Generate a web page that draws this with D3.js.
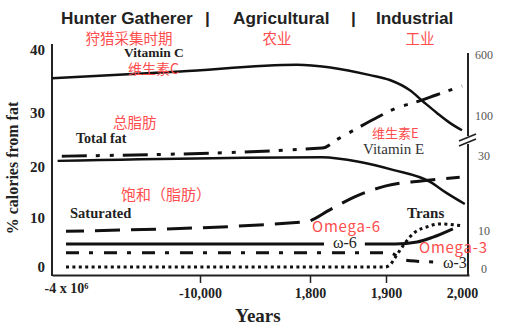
<!DOCTYPE html>
<html>
<head>
<meta charset="utf-8">
<script src="https://cdn.jsdelivr.net/npm/d3@7"></script>
<style>
  body { margin: 0; background: #fff; }
  svg { display: block; }
</style>
</head>
<body>
<svg id="chart" width="505" height="331"></svg>
<script>
// ---- data ----------------------------------------------------------------
const xTickValues = [-4e6, -10000, 1800, 1900, 2000];
const xTickLabels = ["-4 x 10\u2076", "-10,000", "1,800", "1,900", "2,000"];
const leftTicks = [0, 10, 20, 30, 40];      // % calories from fat
const rightTicks = [0, 10, 30, 100, 600];   // mg/day (vitamins)
const eras = ["Hunter Gatherer", "|", "Agricultural", "|", "Industrial"];
const erasZh = ["狩猎采集时期", "农业", "工业"];

// each series: [year, value]
const vitaminC = [[-4.5e6, 410], [-6.0e5, 465], [400, 520], [1879, 435], [1905, 395],
                  [1931, 313], [1951, 207], [1967, 125], [1984, 88], [2000, 75]];
const vitaminE = [[-4.3e6, 28.7], [1816, 29.7], [1866, 28.4], [1909, 26.3],
                  [1958, 23.1], [1980, 20.1], [2004, 17.2]];
const totalFat = [[-4.15e6, 22.0], [1816, 23.5], [1837, 25.2], [1860, 27.0], [1890, 29.3],
                  [1916, 30.9], [1936, 31.6], [1967, 32.9], [2000, 34.3]];
const saturated = [[-4e6, 7.3], [1260, 9.2], [1826, 11.6], [1858, 14.1], [1900, 16.3],
                   [1949, 17.3], [1997, 18.0]];
const omega6 = [[-4e6, 4.7], [1912, 4.7], [1941, 5.1], [1962, 6.1], [1988, 7.8]];
const omega3 = [[-4e6, 2.9], [1905, 2.9], [1921, 1.6], [1938, 1.2], [1974, 1.0]];
const trans = [[-4e6, 0], [1899, 0], [1905, 0.4], [1914, 2.4], [1925, 4.9], [1938, 7.1],
               [1954, 8.2], [1971, 8.8], [2000, 8.4]];

// ---- scales (broken time axis, stretched value axes) ------------------------
const svg = d3.select("#chart");
const x = d3.scaleLinear()
  .domain([-4.5e6, -4e6, -10000, 1800, 1900, 2000, 2010])
  .range([52, 66, 200, 310, 386, 462, 469]);
const yL = d3.scaleLinear().domain([0, 10, 20, 30, 40]).range([267, 218, 167, 113, 50]);
const yR = d3.scaleLinear().domain([0, 10, 30, 100, 600]).range([269, 231, 156, 116, 55]);

const serif = "'Liberation Serif', 'Times New Roman', serif";
const sans = "'Liberation Sans', Arial, sans-serif";
const cjk = "'Noto Sans CJK SC', sans-serif";
const red = "#ff4d4d";
const ink = "#111";

// ---- axes ------------------------------------------------------------------
const xAxis = svg.append("g")
  .attr("transform", "translate(0,275)")
  .call(d3.axisBottom(x).tickValues(xTickValues)
    .tickFormat((d, i) => xTickLabels[i]).tickSize(8).tickSizeOuter(0).tickPadding(5));
xAxis.select(".domain").attr("stroke", "#222").attr("stroke-width", 2);
xAxis.selectAll(".tick line").attr("stroke", "#222").attr("stroke-width", 1.5);
xAxis.selectAll(".tick").filter((d, i) => i === 0 || i === xTickValues.length - 1)
  .select("line").remove();
xAxis.selectAll(".tick text")
  .attr("font-family", serif).attr("font-weight", "bold").attr("font-size", 14).attr("fill", "#222");
xAxis.selectAll(".tick").filter((d, i) => i === 0).select("text").attr("y", 8);

const yAxisL = svg.append("g")
  .attr("transform", "translate(52,0)")
  .call(d3.axisLeft(yL).tickValues(leftTicks).tickSize(0).tickPadding(7));
yAxisL.select(".domain").remove();
yAxisL.selectAll(".tick text")
  .attr("font-family", serif).attr("font-weight", "bold").attr("font-size", 15).attr("fill", "#222");
svg.append("line").attr("x1", 52).attr("x2", 52).attr("y1", 44).attr("y2", 276)
  .attr("stroke", "#222").attr("stroke-width", 2);

const yAxisR = svg.append("g")
  .attr("transform", "translate(468,0)")
  .call(d3.axisRight(yR).tickValues(rightTicks).tickSize(0).tickPadding(16));
yAxisR.select(".domain").remove();
yAxisR.selectAll(".tick text")
  .attr("text-anchor", "middle")
  .attr("font-family", serif).attr("font-size", 12).attr("fill", "#555");
// right axis with a scale break
svg.append("line").attr("x1", 468).attr("x2", 468).attr("y1", 53).attr("y2", 136)
  .attr("stroke", "#222").attr("stroke-width", 2);
svg.append("line").attr("x1", 468).attr("x2", 468).attr("y1", 144).attr("y2", 276)
  .attr("stroke", "#222").attr("stroke-width", 2);
[[459, 141, 476, 134], [459, 146, 476, 139]].forEach(s =>
  svg.append("line").attr("x1", s[0]).attr("y1", s[1]).attr("x2", s[2]).attr("y2", s[3])
    .attr("stroke", "#222").attr("stroke-width", 1.8));

// axis titles
svg.append("text").attr("transform", "translate(18,168) rotate(-90)")
  .attr("text-anchor", "middle").attr("font-family", serif).attr("font-weight", "bold")
  .attr("font-size", 16).attr("fill", "#222").text("% calories from fat");
svg.append("text").attr("x", 258).attr("y", 322).attr("text-anchor", "middle")
  .attr("font-family", serif).attr("font-weight", "bold").attr("font-size", 19)
  .attr("fill", "#222").text("Years");

// era headings
const eraX = [61, 205, 233, 351, 376];
eras.forEach((t, i) => svg.append("text").attr("x", eraX[i]).attr("y", 24)
  .attr("font-family", sans).attr("font-weight", "bold").attr("font-size", 17.2)
  .attr("fill", "#222").text(t));
const eraZhX = [129, 277, 420];
erasZh.forEach((t, i) => svg.append("text").attr("x", eraZhX[i]).attr("y", 43.5)
  .attr("text-anchor", "middle").attr("font-family", cjk).attr("font-size", 14.5)
  .attr("fill", red).text(t));

// ---- series lines ----------------------------------------------------------
function draw(data, scale, dash, width, offset) {
  const line = d3.line().x(d => x(d[0])).y(d => scale(d[1])).curve(d3.curveMonotoneX);
  svg.append("path").datum(data).attr("d", line)
    .attr("fill", "none").attr("stroke", ink).attr("stroke-width", width)
    .attr("stroke-dasharray", dash).attr("stroke-dashoffset", offset || 0);
}
draw(vitaminC, yR, null, 2.5);
draw(vitaminE, yR, null, 2.5);
draw(totalFat, yL, "25,9,4,10,4,9", 3);
draw(saturated, yL, "25,11", 3, 7);
draw(omega6, yL, null, 3);
draw(omega3, yL, "13,10,4,11", 3);
draw(trans, yL, "3,3.4", 3);

// ---- annotations -----------------------------------------------------------
function label(t, px, py, opts) {
  const o = Object.assign({ family: serif, size: 14, weight: "normal", fill: "#222",
                            anchor: "start", spacing: 0 }, opts);
  return svg.append("text").attr("x", px).attr("y", py).attr("text-anchor", o.anchor)
    .attr("font-family", o.family).attr("font-size", o.size).attr("font-weight", o.weight)
    .attr("letter-spacing", o.spacing).attr("fill", o.fill).text(t);
}
label("Vitamin C", 124, 57, { weight: "bold", size: 13.5 });
label("维生素C", 128, 74, { family: cjk, size: 14, fill: red });
label("总脂肪", 113, 128, { family: cjk, size: 14.5, fill: red });
label("Total fat", 76, 143, { weight: "bold", size: 14 });
label("维生素E", 372, 138, { family: cjk, size: 13, fill: red });
label("Vitamin E", 363, 154, { size: 15, fill: "#333" });
label("饱和（脂肪）", 121, 200, { family: cjk, size: 15, fill: red });
label("Saturated", 70, 218, { weight: "bold", size: 14.5 });
label("Trans", 407, 218, { weight: "bold", size: 15 });

// ω-6 sits on its line, over a white patch
const w6 = label("ω-6", 333, 248, { size: 16 });
const b = w6.node().getBBox();
svg.insert("rect", () => w6.node()).attr("x", b.x - 9).attr("y", b.y + 2)
  .attr("width", b.width + 17).attr("height", b.height - 4).attr("fill", "#fff");
label("ω-3", 443, 268, { size: 16 });
label("Omega-6", 312, 232, { family: cjk, size: 15, fill: red, spacing: 0.8 });
label("Omega-3", 419, 253, { family: cjk, size: 15, fill: red, spacing: 0.8 });
</script>
</body>
</html>
